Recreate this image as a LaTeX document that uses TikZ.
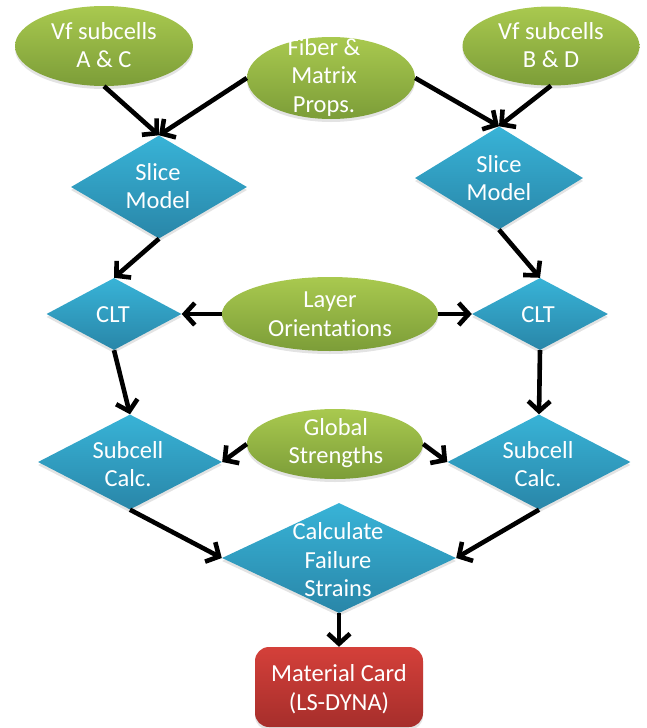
\documentclass[tikz,border=0pt]{standalone}
\usepackage{fontspec}
\setmainfont{Carlito}[Ligatures={NoCommon}]
\usetikzlibrary{shapes.geometric,arrows.meta,shadows}
\definecolor{gtop}{HTML}{A9C94F}
\definecolor{gbot}{HTML}{7C9D38}
\definecolor{btop}{HTML}{38B3D7}
\definecolor{bbot}{HTML}{2986A8}
\definecolor{rtop}{HTML}{D4403A}
\definecolor{rbot}{HTML}{A62E2B}
\tikzset{
  shad/.style={drop shadow={opacity=0.22, shadow xshift=0pt, shadow yshift=-3pt}},
  oval/.style={ellipse, inner sep=0pt, top color=gtop, bottom color=gbot, shad},
  dia/.style={diamond, inner sep=0pt, top color=btop, bottom color=bbot, shad},
  cardbox/.style={rectangle, rounded corners=14pt, inner sep=0pt, top color=rtop, bottom color=rbot, shad},
  lbl/.style={text=white, align=center, inner sep=0pt, font=\fontsize{24.5}{28.5}\selectfont},
  conn/.style={draw=black, line width=4.6pt, -{Straight Barb[length=10pt,width=22pt]}}
}
\begin{document}
\begin{tikzpicture}[x=1pt,y=-1pt]
\useasboundingbox (0,0) rectangle (646,728);
% ellipses
\node[oval, minimum width=178pt, minimum height=80pt] (ac) at (104,46) {};
\node[oval, minimum width=168pt, minimum height=82pt] (fib) at (331,78) {};
\node[oval, minimum width=177pt, minimum height=79pt] (bd) at (551,46) {};
\node[oval, minimum width=216pt, minimum height=74pt] (lay) at (330,314) {};
\node[oval, minimum width=176pt, minimum height=70pt] (glo) at (335,444) {};
% diamonds
\node[dia, minimum width=176pt, minimum height=103pt] (sl) at (159,187) {};
\node[dia, minimum width=168pt, minimum height=103pt] (sr) at (499,178) {};
\node[dia, minimum width=135pt, minimum height=72pt] (cl) at (114,314) {};
\node[dia, minimum width=136pt, minimum height=72pt] (cr) at (540,314) {};
\node[dia, minimum width=184pt, minimum height=95pt] (ul) at (130,462) {};
\node[dia, minimum width=183pt, minimum height=95pt] (ur) at (539,462) {};
\node[dia, minimum width=234pt, minimum height=110pt] (calc) at (339,558) {};
% card
\node[cardbox, minimum width=168pt, minimum height=80pt] (card) at (339,687) {};
% labels
\node[lbl] (tac) at (104,45) {Vf subcells\\A \& C};
\node[lbl] (tfib) at (324,77) {Fiber \&\\Matrix\\Props.};
\node[lbl] (tbd) at (551,45) {Vf subcells\\B \& D};
\node[lbl] (tlay) at (330,314) {Layer\\Orientations};
\node[lbl] (tglo) at (336,443) {Global\\Strengths};
\node[lbl] (tsl) at (158,186) {Slice\\Model};
\node[lbl] (tsr) at (499,178) {Slice\\Model};
\node[lbl] (tcl) at (113,315) {CLT};
\node[lbl] (tcr) at (538,315) {CLT};
\node[lbl] (tul) at (128,464) {Subcell\\Calc.};
\node[lbl] (tur) at (538,464) {Subcell\\Calc.};
\node[lbl] (tcalc) at (338,560) {Calculate\\Failure\\Strains};
\node[lbl] (tcard) at (339,689) {Material Card\\(LS-DYNA)};
% connectors
\draw[conn] (ac.south) -- (sl.north);
\draw[conn] (fib.west) -- (sl.north);
\draw[conn] (fib.east) -- (sr.north);
\draw[conn] (bd.south) -- (sr.north);
\draw[conn] (sl.south) -- (cl.north);
\draw[conn] (sr.south) -- (cr.north);
\draw[conn] (lay.west) -- (cl.east);
\draw[conn] (lay.east) -- (cr.west);
\draw[conn] (cl.south) -- (ul.north);
\draw[conn] (cr.south) -- (ur.north);
\draw[conn] (glo.west) -- (ul.east);
\draw[conn] (glo.east) -- (ur.west);
\draw[conn] (ul.south) -- (calc.west);
\draw[conn] (ur.south) -- (calc.east);
\draw[conn] (calc.south) -- (card.north);
\end{tikzpicture}
\end{document}
